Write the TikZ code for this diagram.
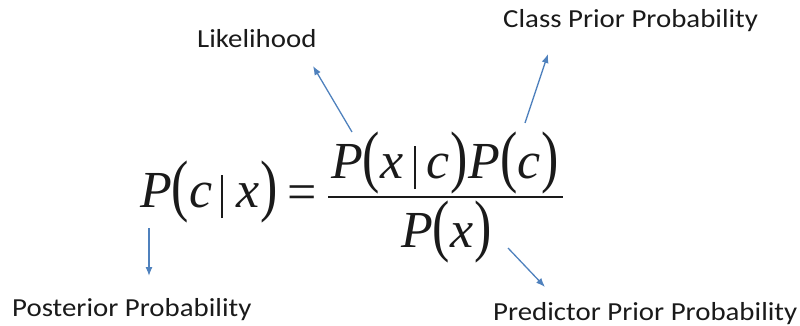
\documentclass[tikz,border=0pt]{standalone}
\usepackage{graphicx}
\usepackage{fontspec}
\newfontfamily\calib[FakeStretch=1.11]{Carlito}
\newfontfamily\tms{Liberation Serif}
\usetikzlibrary{arrows.meta}
\definecolor{arrowblue}{HTML}{4F81BD}
\definecolor{txt}{HTML}{1A1A1A}
\newcommand\lp{\raisebox{-1.5pt}{\scalebox{1}[1.32]{\upshape(}}}
\newcommand\rp{\kern1.5pt\raisebox{-1.5pt}{\scalebox{1}[1.32]{\upshape)}}}
\newcommand\vb[2]{\kern#1pt\rule[-11pt]{2pt}{43pt}\kern#2pt}
\tikzset{
  lbl/.style={inner sep=0pt, text=txt, font=\calib\fontsize{26}{30}\selectfont, anchor=base west},
  eqpart/.style={inner sep=0pt, text=txt, font=\tms\itshape\fontsize{52}{60}\selectfont, anchor=base west},
  pointer/.style={draw=arrowblue, line width=1.3pt, -{Latex[length=9pt,width=7pt]}},
}
\begin{document}
\begin{tikzpicture}[x=1pt,y=-1pt]
\useasboundingbox (0,0) rectangle (800,326);
% labels
\node[lbl] (lik) at (197,48) {Likelihood};
\node[lbl] (cls) at (503,28) {Class Prior Probability};
\node[lbl] (post) at (12,316) {Posterior Probability};
\node[lbl] (pred) at (493,320) {Predictor Prior Probability};
% equation
\node[eqpart] (lhs) at (140,207) {P\lp c\vb{9}{13}x\rp};
\node[eqpart, anchor=base, font=\tms\fontsize{52}{60}\selectfont] (eqs) at (302,209) {=};
\node[eqpart] (num) at (331,178) {P\lp x\vb{11}{10}c\rp P\lp c\rp};
\node[eqpart] (den) at (401,247) {P\lp x\rp};
\draw[txt, line width=2pt] (328,197) -- (563,197);
% arrow anchors
\coordinate (likA) at (352,132);
\coordinate (likB) at (313,66);
\coordinate (clsA) at (525,123);
\coordinate (clsB) at (548,54);
\coordinate (postA) at (149,228);
\coordinate (postB) at (149,276);
\coordinate (predA) at (508,248);
\coordinate (predB) at (545,287);
\draw[pointer] (likA) -- (likB);
\draw[pointer] (clsA) -- (clsB);
\draw[pointer] (postA) -- (postB);
\draw[pointer] (predA) -- (predB);
\end{tikzpicture}
\end{document}
